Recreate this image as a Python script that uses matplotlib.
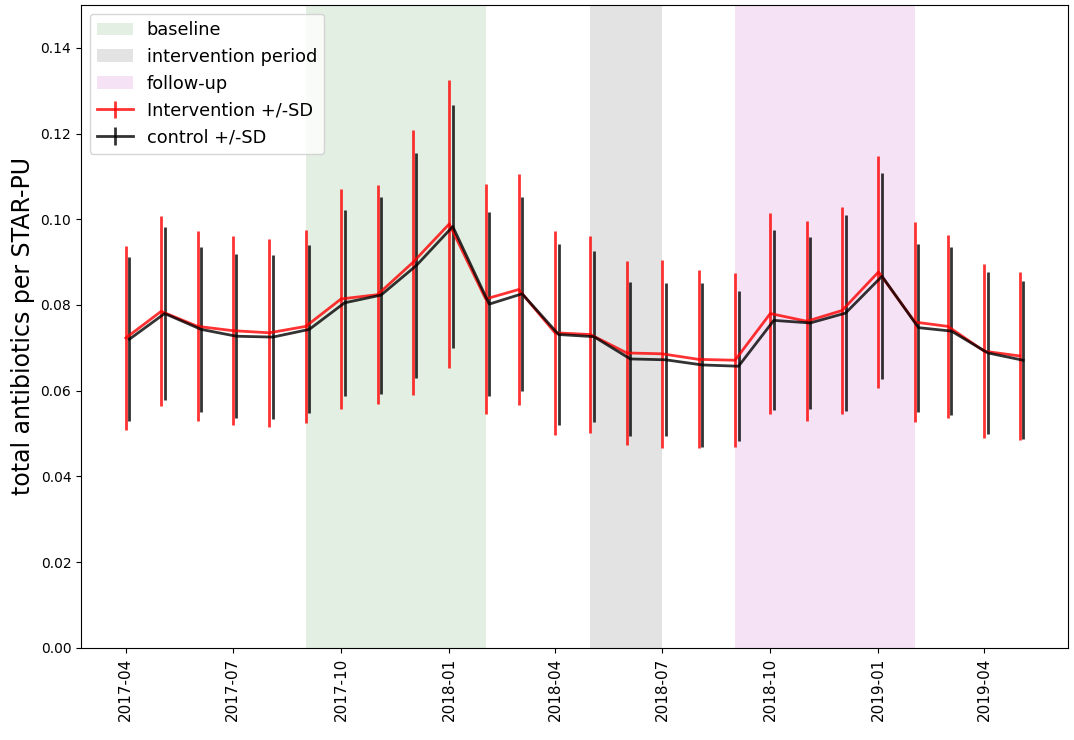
import matplotlib
matplotlib.use("Agg")
import matplotlib.pyplot as plt
import matplotlib.dates as mdates
import pandas as pd

# monthly means and SDs
months = pd.date_range("2017-04-01", periods=26, freq="MS")

intervention_mean = [0.0723, 0.0785, 0.0750, 0.0740, 0.0735, 0.0750, 0.0814, 0.0824,
                     0.0899, 0.0989, 0.0814, 0.0836, 0.0735, 0.0731, 0.0688, 0.0686,
                     0.0673, 0.0671, 0.0780, 0.0762, 0.0787, 0.0877, 0.0760, 0.0750,
                     0.0692, 0.0681]
intervention_sd = [0.0215, 0.0222, 0.0222, 0.0221, 0.0220, 0.0226, 0.0257, 0.0256,
                   0.0310, 0.0336, 0.0269, 0.0270, 0.0238, 0.0229, 0.0215, 0.0219,
                   0.0208, 0.0203, 0.0235, 0.0233, 0.0242, 0.0270, 0.0234, 0.0213,
                   0.0203, 0.0196]

control_mean = [0.0720, 0.0780, 0.0743, 0.0727, 0.0725, 0.0743, 0.0805, 0.0823,
                0.0892, 0.0983, 0.0802, 0.0826, 0.0731, 0.0726, 0.0674, 0.0672,
                0.0660, 0.0657, 0.0764, 0.0758, 0.0781, 0.0867, 0.0747, 0.0739,
                0.0688, 0.0671]
control_sd = [0.0191, 0.0201, 0.0192, 0.0191, 0.0191, 0.0196, 0.0217, 0.0230,
              0.0263, 0.0283, 0.0215, 0.0226, 0.0212, 0.0199, 0.0179, 0.0179,
              0.0192, 0.0175, 0.0210, 0.0200, 0.0228, 0.0240, 0.0196, 0.0197,
              0.0189, 0.0184]

periods = [("baseline", "2017-09-01", "2018-02-01", "#e3efe3"),
           ("intervention period", "2018-05-01", "2018-07-01", "#e3e3e3"),
           ("follow-up", "2018-09-01", "2019-02-01", "#f5e3f5")]

fig = plt.figure(figsize=(10.74, 7.4), dpi=100)
ax = fig.add_axes([0.0754, 0.1247, 0.9190, 0.8685])

handles = []
for name, start, end, col in periods:
    h = ax.axvspan(pd.Timestamp(start), pd.Timestamp(end), color=col, lw=0, label=name)
    handles.append(h)

e1 = ax.errorbar(months, intervention_mean, yerr=intervention_sd, color="red",
                 alpha=0.8, lw=2, elinewidth=2, label="Intervention +/-SD")
e2 = ax.errorbar(months + pd.Timedelta(days=3), control_mean, yerr=control_sd,
                 color="black", alpha=0.8, lw=2, elinewidth=2, label="control +/-SD")
handles += [e1, e2]

ax.set_ylim(0, 0.15)
ax.set_yticks([0.0, 0.02, 0.04, 0.06, 0.08, 0.10, 0.12, 0.14])
ax.xaxis.set_major_locator(mdates.MonthLocator(bymonth=[1, 4, 7, 10]))
ax.xaxis.set_major_formatter(mdates.DateFormatter("%Y-%m"))
plt.setp(ax.get_xticklabels(), rotation=90, fontsize=11)
plt.setp(ax.get_yticklabels(), fontsize=10)
ax.set_ylabel("total antibiotics per STAR-PU", fontsize=17)

ax.legend(handles=handles, loc="upper left", fontsize=12.8)

fig.savefig("out.png", dpi=100)
